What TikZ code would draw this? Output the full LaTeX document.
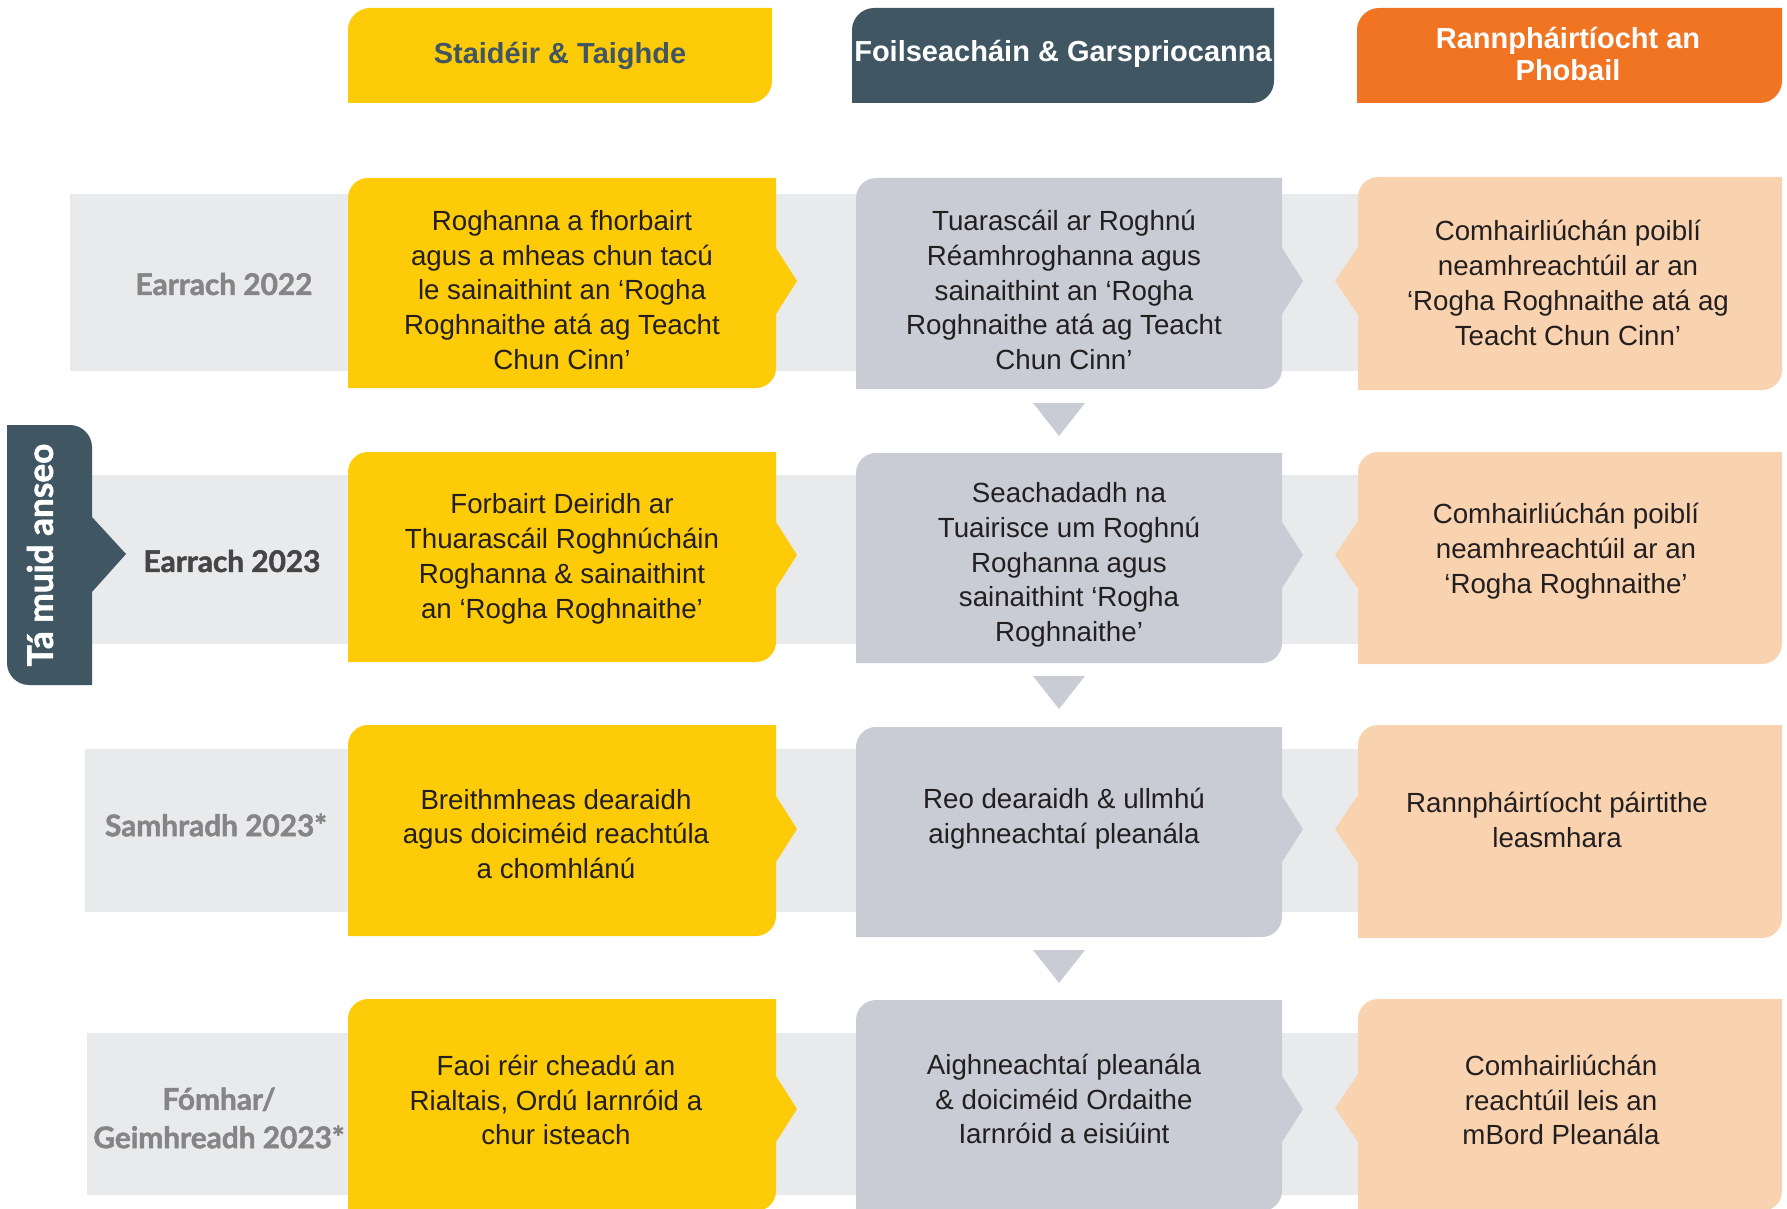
\documentclass[tikz,border=0pt]{standalone}
\usepackage{fontspec}
\setmainfont{Liberation Sans}
\newfontfamily\lblfont{Lato}[BoldFont={Lato Bold},BoldFeatures={FakeBold=1.6}]
\definecolor{yellowc}{HTML}{FDCB08}
\definecolor{slatec}{HTML}{405663}
\definecolor{orangec}{HTML}{F07422}
\definecolor{peachc}{HTML}{F9D3AF}
\definecolor{grayc}{HTML}{C9CCD4}
\definecolor{bandc}{HTML}{E9EAEC}
\definecolor{lblgray}{HTML}{858585}
\definecolor{lbldark}{HTML}{454545}
\definecolor{textc}{HTML}{231F20}
% box with rounded top-left and bottom-right corners and a right-pointing notch
% #1 x1, #2 y1, #3 x2, #4 y2, #5 notch y, #6 colour
\newcommand\boxright[6]{%
  \fill[#6] (#1,#4) -- (#1,#2+20) .. controls +(0,-11) and +(-11,0) .. (#1+20,#2)
    -- (#3,#2) -- (#3,#5-33) -- (#3+21,#5) -- (#3,#5+33) -- (#3,#4-20)
    .. controls +(0,11) and +(11,0) .. (#3-20,#4) -- cycle;}
% same with a left-pointing notch
\newcommand\boxleft[6]{%
  \fill[#6] (#1,#4) -- (#1,#5+34) -- (#1-23,#5) -- (#1,#5-34) -- (#1,#2+20)
    .. controls +(0,-11) and +(-11,0) .. (#1+20,#2)
    -- (#3,#2) -- (#3,#4-20)
    .. controls +(0,11) and +(11,0) .. (#3-20,#4) -- cycle;}
% header box: rounded top-left and bottom-right
\newcommand\headbox[5]{%
  \fill[#5] (#1,#4) -- (#1,#2+22) .. controls +(0,-12) and +(-12,0) .. (#1+22,#2)
    -- (#3,#2) -- (#3,#4-22) .. controls +(0,12) and +(12,0) .. (#3-22,#4) -- cycle;}
\begin{document}
\begin{tikzpicture}[x=0.5pt,y=-0.5pt,
  body/.style={inner sep=0pt,align=center,text=textc,
    font=\fontsize{13.85pt}{17.4pt}\selectfont},
  headtxt/.style={inner sep=0pt,align=center,
    font=\fontsize{14.5pt}{16pt}\selectfont\bfseries},
  rowlbl/.style={inner sep=0pt,align=center,text=lblgray,
    font=\lblfont\bfseries\fontsize{14.9pt}{19.2pt}\selectfont},
  tri/.style={fill=grayc}]
\useasboundingbox (0,0) rectangle (1787,1209);
\clip (0,0) rectangle (1787,1209);

% bands
\fill[bandc] (70,194) rectangle (1770,371);
\fill[bandc] (80,475) rectangle (1770,644);
\fill[bandc] (85,749) rectangle (1770,912);
\fill[bandc] (87,1033) rectangle (1770,1195);

% headers
\headbox{348}{8}{772}{103}{yellowc}
\headbox{852}{8}{1274}{103}{slatec}
\headbox{1357}{8}{1782}{103}{orangec}

% rows of boxes
\boxright{348}{178}{776}{388}{281}{yellowc}
\boxright{856}{178}{1282}{389}{281}{grayc}
\boxleft{1358}{177}{1782}{390}{281}{peachc}

\boxright{348}{452}{776}{662}{555}{yellowc}
\boxright{856}{453}{1282}{663}{555}{grayc}
\boxleft{1358}{452}{1782}{664}{555}{peachc}

\boxright{348}{725}{776}{936}{829}{yellowc}
\boxright{856}{727}{1282}{937}{829}{grayc}
\boxleft{1358}{725}{1782}{938}{829}{peachc}

\boxright{348}{999}{776}{1211}{1109}{yellowc}
\boxright{856}{1000}{1282}{1211}{1109}{grayc}
\boxleft{1358}{999}{1782}{1211}{1108}{peachc}

% down triangles between the grey boxes
\fill[tri] (1033,403) -- (1085,403) -- (1059,436) -- cycle;
\fill[tri] (1033,676) -- (1085,676) -- (1059,709) -- cycle;
\fill[tri] (1033,950) -- (1085,950) -- (1059,983) -- cycle;

% "you are here" tab
\fill[slatec] (7,425) -- (70,425) .. controls +(12,0) and +(0,-12) .. (92,447)
  -- (92,517) -- (126,554) -- (92,592) -- (92,685) -- (29,685)
  .. controls +(-12,0) and +(0,12) .. (7,663) -- cycle;
\node[rotate=90,inner sep=0pt,text=white,
  font=\lblfont\bfseries\fontsize{17.6pt}{19pt}\selectfont] (here) at (40,555) {Tá muid anseo};

% header texts
\node[headtxt,text=slatec] (h1) at (560,56) {Staidéir \& Taighde};
\node[headtxt,text=white] (h2) at (1063,54) {Foilseacháin \& Garspriocanna};
\node[headtxt,text=white] (h3) at (1568,54) {Rannpháirtíocht an\\Phobail};

% row labels
\node[rowlbl] (l1) at (224,284) {Earrach 2022};
\node[rowlbl,text=lbldark] (l2) at (232,561) {Earrach 2023};
\node[rowlbl] (l3) at (216,825) {Samhradh 2023*};
\node[rowlbl] (l4) at (219,1118) {Fómhar/\\Geimhreadh 2023*};

% row 1
\node[body] (y1) at (562,290) {Roghanna a fhorbairt\\agus a mheas chun tacú\\le sainaithint an ‘Rogha\\Roghnaithe atá ag Teacht\\Chun Cinn’};
\node[body] (g1) at (1064,290) {Tuarascáil ar Roghnú\\Réamhroghanna agus\\sainaithint an ‘Rogha\\Roghnaithe atá ag Teacht\\Chun Cinn’};
\node[body] (o1) at (1568,283) {Comhairliúchán poiblí\\neamhreachtúil ar an\\‘Rogha Roghnaithe atá ag\\Teacht Chun Cinn’};

% row 2
\node[body] (y2) at (562,559) {Forbairt Deiridh ar\\Thuarascáil Roghnúcháin\\Roghanna \& sainaithint\\an ‘Rogha Roghnaithe’};
\node[body] (g2) at (1069,565) {Seachadadh na\\Tuairisce um Roghnú\\Roghanna agus\\sainaithint ‘Rogha\\Roghnaithe’};
\node[body] (o2) at (1566,551) {Comhairliúchán poiblí\\neamhreachtúil ar an\\‘Rogha Roghnaithe’};

% row 3
\node[body] (y3) at (556,834) {Breithmheas dearaidh\\agus doiciméid reachtúla\\a chomhlánú};
\node[body] (g3) at (1064,819) {Reo dearaidh \& ullmhú\\aighneachtaí pleanála};
\node[body] (o3) at (1557,820) {Rannpháirtíocht páirtithe\\leasmhara};

% row 4
\node[body] (y4) at (556,1100) {Faoi réir cheadú an\\Rialtais, Ordú Iarnróid a\\chur isteach};
\node[body] (g4) at (1064,1099) {Aighneachtaí pleanála\\\& doiciméid Ordaithe\\Iarnróid a eisiúint};
\node[body] (o4) at (1561,1100) {Comhairliúchán\\reachtúil leis an\\mBord Pleanála};
\end{tikzpicture}
\end{document}
